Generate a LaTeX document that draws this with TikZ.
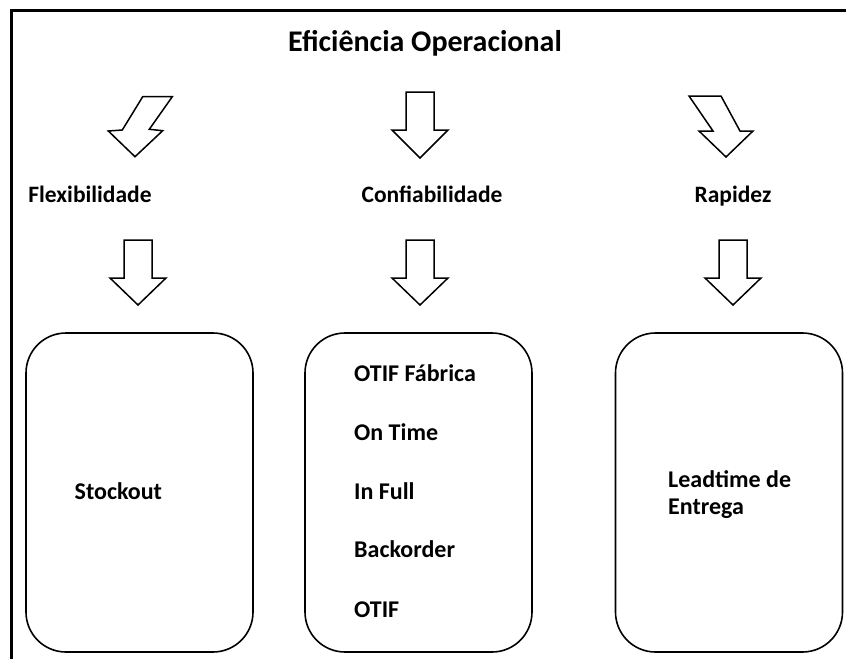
\documentclass[tikz,border=0pt]{standalone}
\usepackage{fontspec}
\setmainfont{Carlito}
\begin{document}
\begin{tikzpicture}[x=1pt, y=-1pt,
  dimtext/.style={font=\bfseries\fontsize{23.5}{27}\selectfont, inner sep=0pt, anchor=base},
  kpitext/.style={font=\bfseries\fontsize{24}{28}\selectfont, inner sep=0pt, anchor=base west},
  kpibox/.style={draw, line width=1.6pt, rounded corners=40pt, minimum width=227pt, minimum height=319pt, inner sep=0pt},
  blockarrow/.style={draw, line width=1.5pt, fill=white, line join=miter}]
\useasboundingbox (0,0) rectangle (846,659);
\draw[line width=3pt] (11,659) -- (11,10) -- (846,10);
\node[dimtext, font=\bfseries\fontsize{30}{34}\selectfont] (title) at (425,51) {Eficiência Operacional};
% upper arrows
\draw[blockarrow] (142.7,96.7) -- (172.3,96.7) -- (149.3,129.3) -- (162.7,130.7) -- (135,156.7) -- (108.3,131) -- (122.3,130) -- cycle;
\draw[blockarrow] (406,92) -- (434,92) -- (434,130) -- (448,130) -- (420,158) -- (392,130) -- (406,130) -- cycle;
\draw[blockarrow] (689,96) -- (721,96) -- (740,131) -- (753,131) -- (726,157) -- (699,131) -- (713,131) -- cycle;
\node[dimtext] (flex) at (90,202) {Flexibilidade};
\node[dimtext] (conf) at (432,202) {Confiabilidade};
\node[dimtext] (rap) at (733,202) {Rapidez};
% lower arrows
\foreach \x in {138,420,733} {
 \draw[blockarrow] (\x-14,240) --++(28,0) --++(0,38) --++(14,0) -- (\x,305) -- (\x-28,278) --++(14,0) -- cycle;
}
\node[kpibox] (flexbox) at (139.5,492.5) {};
\node[kpibox] (confbox) at (418.5,492.5) {};
\node[kpibox] (rapbox) at (729,492.5) {};
\node[kpitext] (stockout) at (74.5,499) {Stockout};
\foreach \t/\y/\n in {OTIF Fábrica/381/otiffab, On Time/440/ontime, In Full/499/infull, Backorder/557/backorder, OTIF/617/otif} {
 \node[kpitext] (\n) at (354,\y) {\t};
}
\node[kpitext] (lead) at (668,487) {Leadtime de};
\node[kpitext] (entrega) at (668,514) {Entrega};
\end{tikzpicture}
\end{document}
